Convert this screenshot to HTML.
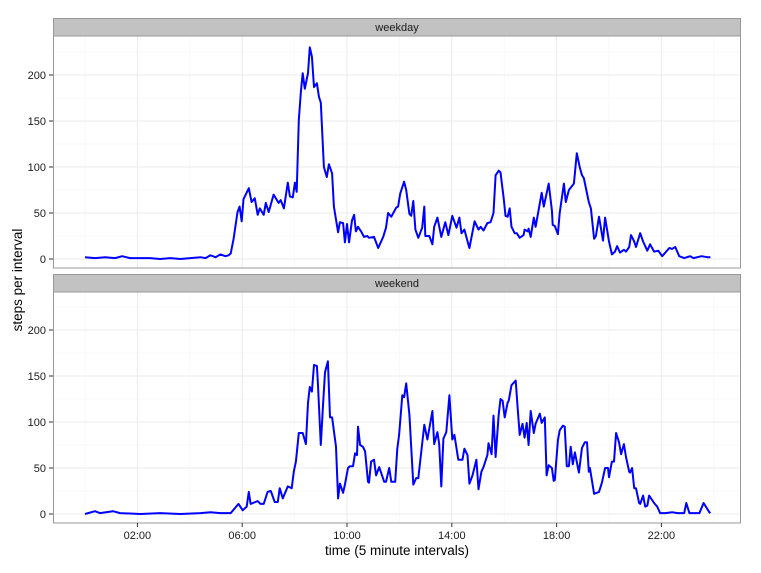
<!DOCTYPE html>
<html><head><meta charset="utf-8"><style>
body{margin:0;background:#fff;font-family:"Liberation Sans",sans-serif}
svg text{font-family:"Liberation Sans",sans-serif}
</style></head><body>
<svg id="chart" width="761" height="568" viewBox="0 0 761 568"></svg>
<script>
// ---- data ----
const panelNames = ["weekday", "weekend"];
const weekdayTimes = [0,0.38,0.77,1.15,1.42,1.72,2.11,2.49,2.87,3.26,3.64,4.02,4.41,4.6,4.79,4.98,5.17,5.36,5.48,5.56,5.67,5.82,5.9,5.98,6.05,6.25,6.36,6.48,6.59,6.67,6.82,6.9,7.01,7.2,7.39,7.47,7.59,7.74,7.82,7.93,8.01,8.08,8.16,8.24,8.31,8.39,8.51,8.58,8.66,8.74,8.85,8.93,9.0,9.12,9.23,9.31,9.43,9.5,9.66,9.73,9.85,9.92,10.0,10.08,10.19,10.27,10.34,10.42,10.54,10.65,10.77,10.84,11.03,11.19,11.38,11.49,11.57,11.69,11.88,11.95,12.03,12.18,12.26,12.38,12.45,12.53,12.61,12.72,12.87,12.95,12.99,13.14,13.26,13.33,13.45,13.6,13.75,13.87,14.02,14.18,14.29,14.37,14.48,14.64,14.67,14.87,15.02,15.1,15.21,15.36,15.48,15.59,15.67,15.79,15.86,15.98,16.05,16.13,16.21,16.28,16.4,16.48,16.59,16.74,16.78,16.9,16.93,17.01,17.13,17.2,17.43,17.51,17.7,17.82,17.85,17.93,18.05,18.12,18.28,18.35,18.47,18.66,18.77,18.89,18.97,19.04,19.23,19.31,19.43,19.5,19.62,19.77,19.85,20.0,20.11,20.23,20.31,20.42,20.57,20.65,20.77,20.84,20.96,21.03,21.19,21.3,21.46,21.57,21.72,21.88,22.03,22.3,22.41,22.53,22.68,22.87,23.1,23.22,23.53,23.75,23.87];
const weekdayValues = [2,1,2,1,3,1,1,1,0,1,0,1,2,1,4,2,5,3,4,6,22,51,57,41,65,77,62,66,48,55,48,61,51,70,61,64,55,83,68,67,83,73,151,182,202,185,202,230,220,187,191,176,170,100,89,103,93,57,29,40,39,18,38,18,42,48,30,35,30,24,25,23,24,12,24,34,50,46,56,57,71,84,75,49,47,63,32,23,34,57,25,25,16,35,45,24,40,26,47,34,45,28,32,15,12,41,32,35,31,39,40,50,91,96,94,66,47,46,55,35,28,28,23,26,32,30,33,24,45,35,72,57,82,53,37,36,27,50,82,62,75,82,115,99,91,88,62,55,22,25,46,20,45,19,5,8,14,7,10,8,13,26,19,13,28,19,9,16,8,9,3,12,11,13,3,1,3,1,3,2,2];
const weekendTimes = [0,0.38,0.57,1.07,1.34,2.11,2.87,3.64,4.41,4.79,5.17,5.56,5.86,6.02,6.17,6.25,6.32,6.59,6.7,6.82,6.97,7.09,7.24,7.36,7.43,7.55,7.74,7.89,7.97,8.05,8.16,8.31,8.43,8.51,8.58,8.66,8.74,8.85,8.89,9.0,9.08,9.16,9.27,9.35,9.43,9.58,9.66,9.73,9.85,9.92,10.04,10.11,10.23,10.31,10.38,10.42,10.5,10.61,10.69,10.8,10.84,10.92,11.03,11.11,11.23,11.42,11.49,11.61,11.69,11.84,11.92,11.99,12.11,12.18,12.26,12.38,12.53,12.64,12.72,12.95,13.07,13.26,13.33,13.45,13.52,13.6,13.68,13.79,13.91,14.02,14.1,14.25,14.41,14.48,14.6,14.67,14.79,14.94,15.02,15.13,15.21,15.36,15.4,15.52,15.59,15.67,15.79,15.86,15.94,16.02,16.13,16.17,16.28,16.44,16.51,16.59,16.7,16.78,16.86,16.93,17.01,17.13,17.2,17.36,17.43,17.55,17.62,17.7,17.82,17.89,17.93,18.05,18.12,18.24,18.31,18.39,18.47,18.54,18.62,18.7,18.85,18.97,19.08,19.16,19.23,19.27,19.43,19.62,19.73,19.85,19.96,20.0,20.11,20.19,20.27,20.38,20.46,20.57,20.65,20.77,20.8,20.88,20.96,21.03,21.15,21.19,21.3,21.38,21.46,21.53,21.72,21.84,21.95,22.15,22.41,22.61,22.87,22.95,23.07,23.45,23.61,23.83,23.87];
const weekendValues = [0,3,1,3,1,0,1,0,1,2,1,1,11,4,8,24,11,14,11,11,24,25,13,13,28,17,30,28,46,57,88,88,76,121,138,133,162,161,142,75,116,154,166,105,105,73,17,33,23,32,50,52,52,66,64,95,75,73,68,35,34,57,59,42,51,35,35,50,35,35,71,86,129,127,142,108,32,39,39,97,81,112,76,89,76,30,82,89,129,81,86,59,59,71,64,33,42,59,27,46,51,64,77,65,107,62,108,125,123,105,121,123,140,145,116,86,98,83,99,75,112,88,98,109,99,105,42,53,50,36,37,80,91,96,95,52,52,73,54,67,45,72,78,78,46,50,22,24,34,50,50,40,57,57,88,78,65,76,62,46,45,50,28,28,12,11,20,8,9,20,12,8,1,1,2,1,1,12,1,1,12,2,1];
const xTickValues = [2,6,10,14,18,22];
const xTickLabels = ["02:00","06:00","10:00","14:00","18:00","22:00"];
const yTickValues = [0,50,100,150,200];
const yTickLabels = ["0","50","100","150","200"];

const NS = "http://www.w3.org/2000/svg";
const svg = document.getElementById("chart");
function mk(tag, attrs, parent){const e=document.createElementNS(NS,tag);for(const k in attrs)e.setAttribute(k,attrs[k]);(parent||svg).appendChild(e);return e;}

const PL=53, PR=741;
const panels=[{top:36,bottom:268,stripTop:18,zeroY:259,times:weekdayTimes,values:weekdayValues},
              {top:292,bottom:523,stripTop:274,zeroY:514,times:weekendTimes,values:weekendValues}];
const xScale = h => 85 + h*26.2;
const yPerUnit = 0.92;

panels.forEach((p,i)=>{
  const yScale = v => p.zeroY - v*yPerUnit;
  const g = mk("g",{});
  
  
  const bg = mk("rect",{x:PL,y:p.top,width:PR-PL,height:p.bottom-p.top,fill:"#fff"},g);
  
  
  // minor grid
  for(let v=25; v<=225; v+=50){ const y=yScale(v); if(y>p.top) mk("line",{x1:PL,x2:PR,y1:y,y2:y,stroke:"#f6f6f6","stroke-width":0.6},g); }
  for(let h=0; h<=24; h+=4){ const x=xScale(h); mk("line",{x1:x,x2:x,y1:p.top,y2:p.bottom,stroke:"#f6f6f6","stroke-width":0.6},g); }
  // major grid
  yTickValues.forEach(v=>{ const y=yScale(v); mk("line",{x1:PL,x2:PR,y1:y,y2:y,stroke:"#ebebeb","stroke-width":1},g); });
  xTickValues.forEach(h=>{ const x=xScale(h); mk("line",{x1:x,x2:x,y1:p.top,y2:p.bottom,stroke:"#ebebeb","stroke-width":1},g); });
  // line
  let d="";
  p.times.forEach((t,k)=>{ d += (k?"L":"M")+xScale(t).toFixed(1)+","+yScale(p.values[k]).toFixed(1); });
  const line = mk("path",{d:d,fill:"none",stroke:"#0000ff","stroke-width":2,"stroke-linejoin":"round"},g);
  
  
  const border = mk("rect",{x:PL+0.5,y:p.top,width:PR-PL-1,height:p.bottom-p.top,fill:"none",stroke:"#999","stroke-width":1},g);
  
  
  // strip
  const strip = mk("rect",{x:PL+0.5,y:p.stripTop+0.5,width:PR-PL-1,height:p.top-p.stripTop-0.5,fill:"#c2c2c2",stroke:"#999","stroke-width":1},g);
  
  
  const st = mk("text",{x:(PL+PR)/2,y:p.stripTop+13,"text-anchor":"middle","font-size":"11",fill:"#1a1a1a"},g);
  st.textContent = panelNames[i];
  
  
  // y ticks
  yTickValues.forEach((v,k)=>{
    const y=yScale(v);
    mk("line",{x1:PL-4,x2:PL,y1:y,y2:y,stroke:"#333","stroke-width":1},g);
    const t=mk("text",{x:PL-7,y:y+4,"text-anchor":"end","font-size":"11",fill:"#1a1a1a"},g);
    t.textContent=yTickLabels[k];
    
    
  });
});
// x ticks on bottom panel
xTickValues.forEach((h,k)=>{
  const x=xScale(h);
  mk("line",{x1:x,x2:x,y1:523,y2:527,stroke:"#333","stroke-width":1});
  const t=mk("text",{x:x,y:539,"text-anchor":"middle","font-size":"11",fill:"#1a1a1a"});
  t.textContent=xTickLabels[k];
  
  
});
const xt=mk("text",{x:397,y:555,"text-anchor":"middle","font-size":"13.5",fill:"#000"});
xt.textContent="time (5 minute intervals)";


const yt=mk("text",{x:0,y:0,"text-anchor":"middle","font-size":"13.5",fill:"#000",transform:"translate(22,280) rotate(-90)"});
yt.textContent="steps per interval";


</script>
</body></html>
